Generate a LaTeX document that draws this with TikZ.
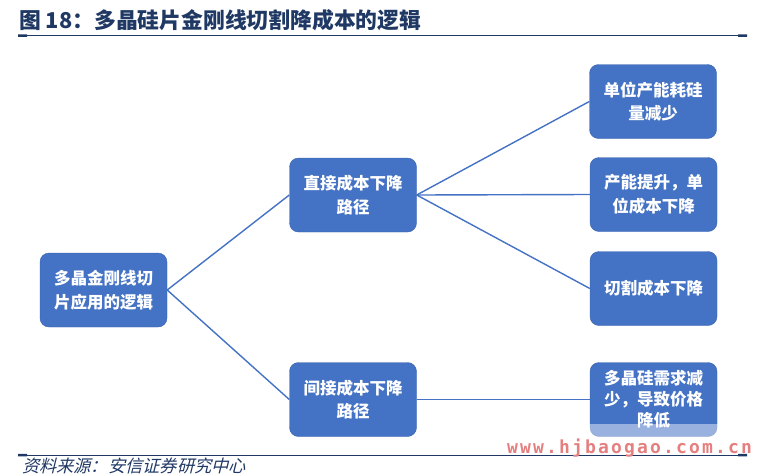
\documentclass[tikz,border=0pt]{standalone}
\usepackage{fontspec}
\newfontfamily\cjk{Noto Sans CJK SC}
\newfontfamily\cjkslant[FakeSlant=0.25]{Noto Sans CJK SC}
\newfontfamily\markfont[LetterSpace=12]{DejaVu Sans Mono}
\definecolor{boxblue}{HTML}{4472C4}
\definecolor{boxedge}{HTML}{3A63AE}
\definecolor{navy}{HTML}{1F3864}
\definecolor{markred}{HTML}{E57F7F}
\tikzset{
  logicbox/.style={draw=boxedge,fill=boxblue,rounded corners=9pt,
    minimum width=127pt,minimum height=74pt,inner sep=0pt,align=center,
    text=white,font=\cjk\bfseries\fontsize{16.5}{23.5}\selectfont},
  link/.style={draw=boxblue,line width=1.4pt}
}

\begin{document}
\begin{tikzpicture}[x=1pt,y=-1pt]
\useasboundingbox (0,0) rectangle (757,474);

% title and rules
\node[anchor=west,text=navy,font=\cjk\bfseries\fontsize{21.8}{21.8}\selectfont,inner sep=0pt]
  (title) at (19,20.5) {图 18：多晶硅片金刚线切割降成本的逻辑};
\draw[navy,line width=0.9pt] (18,35.5) -- (747,35.5);
\fill[navy] (18,34.3) rectangle (27,36.8) (738,34.3) rectangle (747,36.8);
\draw[navy,line width=0.9pt] (18,455) -- (747,455);
\fill[navy] (18,453.8) rectangle (27,456.3) (738,453.8) rectangle (747,456.3);
\node[anchor=west,text=navy,font=\cjkslant\fontsize{17.2}{17.2}\selectfont,inner sep=0pt]
  (source) at (22,466) {资料来源：安信证券研究中心};

% boxes
\node[logicbox] (logic) at (103.5,290) {多晶金刚线切\\片应用的逻辑};
\node[logicbox] (direct) at (353,195) {直接成本下降\\路径};
\node[logicbox] (indirect) at (353,399.5) {间接成本下降\\路径};
\node[logicbox] (silicon) at (653,101.5) {单位产能耗硅\\量减少};
\node[logicbox] (capacity) at (653.5,194.5) {产能提升，单\\位成本下降};
\node[logicbox] (cutting) at (653.5,288.5) {切割成本下降};
\node[logicbox,font=\cjk\bfseries\fontsize{16.5}{21}\selectfont] (demand) at (653.5,399.5)
  {多晶硅需求减\\少，导致价格\\降低};

% links
\draw[link] (logic.east) -- (direct.west);
\draw[link] (logic.east) -- (indirect.west);
\draw[link] (direct.east) -- (silicon.west);
\draw[link] (direct.east) -- (capacity.west);
\draw[link] (direct.east) -- (cutting.west);
\draw[link] (indirect.east) -- (demand.west);

% watermark
\fill[white,opacity=0.45] (500,424) rectangle (757,449);
\node[anchor=base west,text=markred,font=\markfont\bfseries\fontsize{18}{18}\selectfont,inner sep=0pt]
  (mark) at (507,453) {www.hjbaogao.com.cn};
\end{tikzpicture}
\end{document}
